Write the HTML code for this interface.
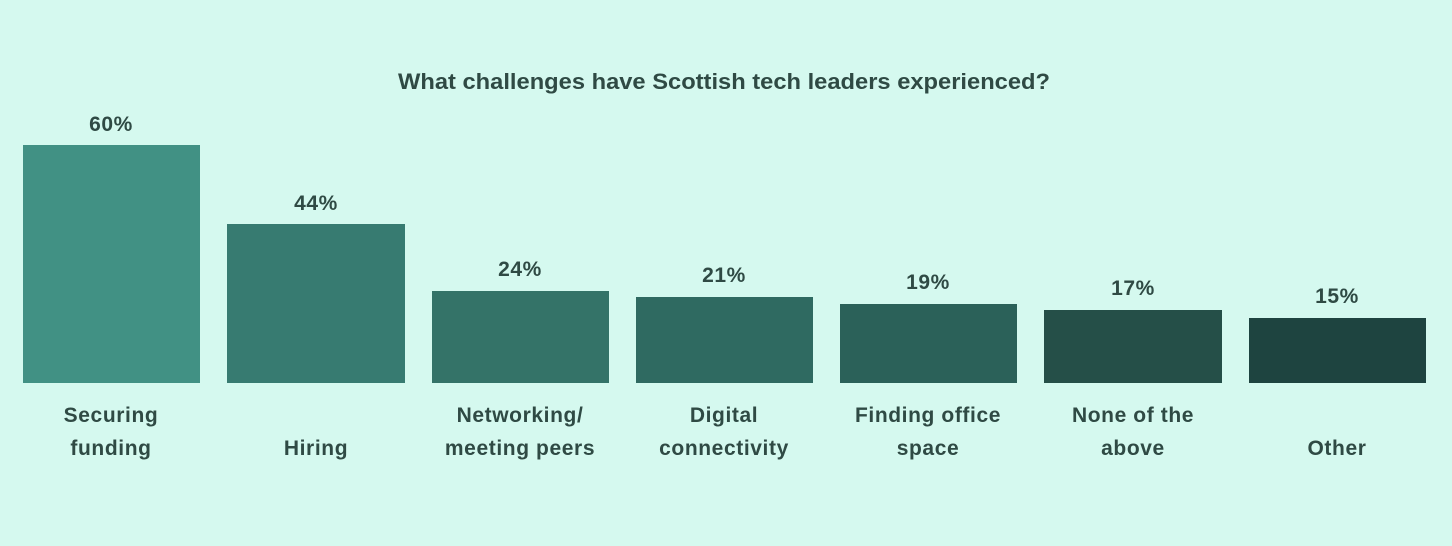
<!DOCTYPE html>
<html><head><style>
body{margin:0;width:1452px;height:541px;background:#d5f9ef;font-family:"Liberation Sans",sans-serif;overflow:hidden}
</style></head><body>
<svg width="1452" height="541" xmlns="http://www.w3.org/2000/svg">
<rect width="1452" height="541" fill="#d5f9ef"/>
<g font-family="Liberation Sans, sans-serif" font-weight="bold" fill="#2f4a44" text-anchor="middle">
<text x="724" y="89" font-size="22" textLength="652" lengthAdjust="spacingAndGlyphs">What challenges have Scottish tech leaders experienced?</text>
<rect x="23" y="145" width="177" height="238" fill="#419184"/>
<rect x="227" y="224" width="178" height="159" fill="#377b71"/>
<rect x="432" y="291" width="177" height="92" fill="#347368"/>
<rect x="636" y="297" width="177" height="86" fill="#2f6a61"/>
<rect x="840" y="304" width="177" height="79" fill="#2b6159"/>
<rect x="1044" y="310" width="178" height="73" fill="#254f48"/>
<rect x="1249" y="318" width="177" height="65" fill="#1e4440"/>
<g font-size="21" letter-spacing="0.6">
<text x="111" y="131">60%</text>
<text x="316" y="210">44%</text>
<text x="520" y="276">24%</text>
<text x="724" y="282">21%</text>
<text x="928" y="289">19%</text>
<text x="1133" y="295">17%</text>
<text x="1337" y="303">15%</text>
<text x="111" y="422">Securing</text><text x="111" y="455">funding</text>
<text x="316" y="455">Hiring</text>
<text x="520" y="422">Networking/</text><text x="520" y="455">meeting peers</text>
<text x="724" y="422">Digital</text><text x="724" y="455">connectivity</text>
<text x="928" y="422">Finding office</text><text x="928" y="455">space</text>
<text x="1133" y="422">None of the</text><text x="1133" y="455">above</text>
<text x="1337" y="455">Other</text>
</g></g></svg>
</body></html>
